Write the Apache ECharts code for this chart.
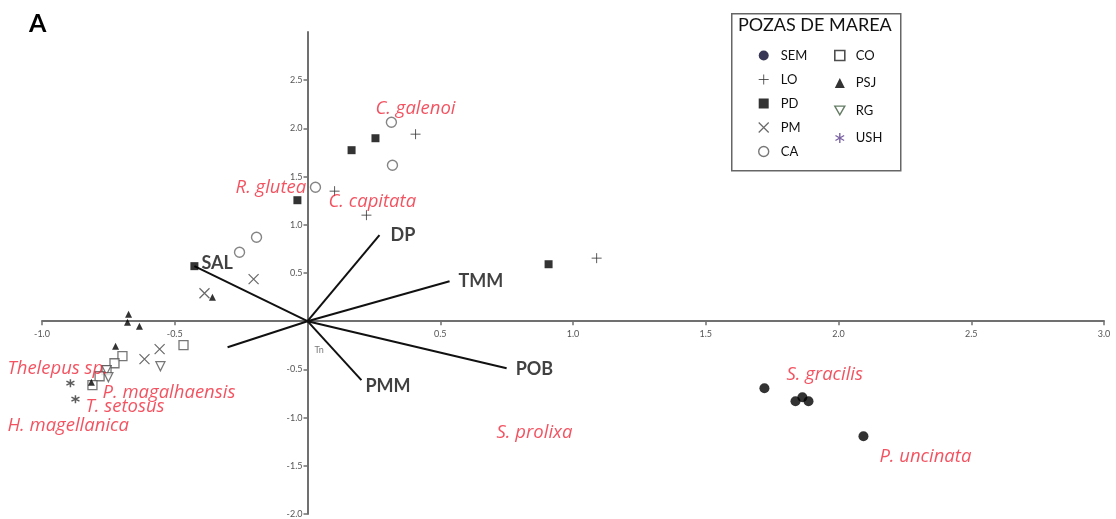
<!DOCTYPE html>
<html>
<head>
<meta charset="utf-8">
<script src="https://cdn.jsdelivr.net/npm/echarts@6/dist/echarts.min.js"></script>
<style>
html,body{margin:0;padding:0;background:#fff;}
#chart{width:1116px;height:519px;}
</style>
</head>
<body>
<div id="chart"></div>
<script>
// ---------- data ----------
const xRange = [-1.0, 3.0];
const yRange = [-2.0, 3.0];
const tickStep = 0.5;

const SEM = [[1.721,-0.695],[1.838,-0.830],[1.864,-0.788],[1.887,-0.830],[2.094,-1.193]];
const LO  = [[0.407,1.940],[0.102,1.349],[0.222,1.100],[1.089,0.654]];
const PD  = [[0.166,1.774],[0.256,1.898],[-0.038,1.255],[-0.426,0.571],[0.908,0.591]];
const PM  = [[-0.203,0.436],[-0.388,0.290],[-0.557,-0.290],[-0.614,-0.394]];
const CA  = [[0.316,2.064],[0.320,1.618],[0.030,1.390],[-0.192,0.871],[-0.256,0.716]];
const CO  = [[-0.467,-0.249],[-0.697,-0.363],[-0.727,-0.436],[-0.757,-0.508],[-0.783,-0.571],[-0.810,-0.664]];
const PSJ = [[-0.674,0.073],[-0.678,-0.010],[-0.633,-0.052],[-0.723,-0.259],[-0.358,0.249],[-0.814,-0.633]];
const RG  = [[-0.554,-0.467],[-0.757,-0.508],[-0.750,-0.581]];
const USH = [[-0.893,-0.643],[-0.874,-0.809]];

const vectorNames = ['DP','TMM','SAL','POB','PMM',''];
const vectorEnds  = [[0.271,0.892],[0.535,0.415],[-0.426,0.571],[0.750,-0.488],[0.203,-0.612],[-0.301,-0.270]];

const tnLabel = 'Tn';
const tnPos = [0.019,-0.30];

const speciesNames = ['C. galenoi','R. glutea','C. capitata','Thelepus sp.','P. magalhaensis','T. setosus','H. magellanica','S. prolixa','S. gracilis','P. uncinata'];
const speciesPos   = [[0.256,2.20],[-0.271,1.38],[0.079,1.235],[-1.130,-0.488],[-0.772,-0.737],[-0.836,-0.892],[-1.130,-1.089],[0.712,-1.162],[1.804,-0.560],[2.154,-1.411]];

const groupNames = ['SEM','LO','PD','PM','CA','CO','PSJ','RG','USH'];
const legendTitle = 'POZAS DE MAREA';
const panelLetter = 'A';

// ---------- layout / styles ----------
const W = 1116, H = 519;
const G = {left:42, right:12, top:32, bottom:5};
const plotW = W - G.left - G.right, plotH = H - G.top - G.bottom;
const zeroX = G.left + plotW * (0 - xRange[0]) / (xRange[1] - xRange[0]);
const zeroY = G.top + plotH * (yRange[1] - 0) / (yRange[1] - yRange[0]);
const yAxisOffset = -(zeroX - G.left);
const xAxisOffset = -((H - G.bottom) - zeroY);

const FONT = 'Lato, "Noto Sans", sans-serif';
const IFONT = '"Open Sans", "Noto Sans", sans-serif';
const PLUS = 'path://M5,0L5,10M0,5L10,5';
const CROSS = 'path://M0,0L10,10M0,10L10,0';
const STAR = 'path://M5,0L5,10M0.67,2.5L9.33,7.5M0.67,7.5L9.33,2.5';
const INVTRI = 'path://M0,0L10,0L5,8.66Z';
// per-label nudges (pixels) for vector labels
const vecLabelNudge = {DP:[2,0], TMM:[0,0], SAL:[-2,-3], POB:[0,1], PMM:[-5,6]};

const groupData = {SEM, LO, PD, PM, CA, CO, PSJ, RG, USH};
const groupStyle = {
  SEM: {symbol:'circle', size:10, item:{color:'#000', borderColor:'#000', borderWidth:0}, legend:{color:'#05052a', borderColor:'#05052a', borderWidth:0}},
  LO:  {symbol:PLUS, size:10, item:{color:'transparent', borderColor:'#333', borderWidth:1}, legend:{color:'transparent', borderColor:'#333', borderWidth:1}},
  PD:  {symbol:'rect', size:8, item:{color:'#000', borderColor:'#000', borderWidth:0}, legend:{color:'#000', borderColor:'#000', borderWidth:0}},
  PM:  {symbol:CROSS, size:10, item:{color:'transparent', borderColor:'#444', borderWidth:1.2}, legend:{color:'transparent', borderColor:'#444', borderWidth:1.2}},
  CA:  {symbol:'circle', size:10, item:{color:'#fff', borderColor:'#666', borderWidth:1.4}, legend:{color:'#fff', borderColor:'#555', borderWidth:1.4}},
  CO:  {symbol:'rect', size:9, item:{color:'#fff', borderColor:'#555', borderWidth:1.3}, legend:{color:'#fff', borderColor:'#222', borderWidth:1.6}},
  PSJ: {symbol:'triangle', size:7, item:{color:'#000', borderColor:'#000', borderWidth:0}, legend:{color:'#000', borderColor:'#000', borderWidth:0}},
  RG:  {symbol:INVTRI, size:9, item:{color:'#fff', borderColor:'#555', borderWidth:1.3}, legend:{color:'#fff', borderColor:'#3d5a3d', borderWidth:1.4}},
  USH: {symbol:STAR, size:8, item:{color:'transparent', borderColor:'#333', borderWidth:1.5}, legend:{color:'transparent', borderColor:'#5a3c8c', borderWidth:1.4}}
};

const series = [];

// vectors
vectorEnds.forEach((e, i) => {
  series.push({
    type:'line', name:'vec'+i, data:[[0,0], e], symbol:'none', silent:true,
    lineStyle:{color:'#111', width:2}, z:3, animation:false
  });
});
series.push({
  type:'scatter', name:'vecLabels', symbolSize:0, silent:true, z:6, animation:false,
  data: vectorEnds.map((e,i)=>({value:e, name:vectorNames[i],
    label:{offset: vecLabelNudge[vectorNames[i]] || [0,0]}})),
  label:{show:true, position:'right', distance:9, formatter:p=>p.name,
         color:'#111', fontWeight:'bold', fontSize:18, fontFamily:FONT}
});
// Tn
series.push({
  type:'scatter', name:'tn', symbolSize:0, silent:true, z:6, animation:false,
  data:[{value:tnPos, name:tnLabel}],
  label:{show:true, position:'right', distance:2, formatter:p=>p.name, color:'#555', fontSize:9, fontFamily:FONT}
});
// groups
groupNames.forEach(g => {
  const s = groupStyle[g];
  series.push({
    type:'scatter', name:g, data:groupData[g], symbol:s.symbol, symbolSize:s.size,
    itemStyle:s.item, z:5, animation:false, clip:false
  });
});
// species labels
series.push({
  type:'scatter', name:'species', symbolSize:0, silent:true, z:7, animation:false, clip:false,
  data: speciesPos.map((p,i)=>({value:p, name:speciesNames[i]})),
  label:{show:true, position:'right', distance:0, formatter:p=>p.name,
         color:'#f0283a', fontStyle:'italic', fontSize:18.5, fontFamily:IFONT}
});

const axisLabelCommon = {color:'#555', fontSize:9, fontFamily:FONT, formatter:v=> Math.abs(v)<1e-9 ? '' : v.toFixed(1)};
const axisCommon = {
  type:'value', interval:tickStep,
  axisLine:{onZero:false, lineStyle:{color:'#707070', width:2}},
  axisTick:{show:true, length:4, lineStyle:{color:'#707070', width:1.5}},
  splitLine:{show:false}
};

const legendCol1 = groupNames.slice(0,5);
const legendCol2 = groupNames.slice(5);
function legendData(names){
  return names.map(n=>({name:n, icon:groupStyle[n].symbol, itemStyle:groupStyle[n].legend}));
}

const option = {
  backgroundColor:'#fff',
  animation:false,
  title:{text:panelLetter, left:24, top:6, textStyle:{fontSize:25, fontWeight:'bold', color:'#000', fontFamily:FONT}},
  grid:{left:G.left, right:G.right, top:G.top, bottom:G.bottom, containLabel:false, outerBoundsMode:'none'},
  xAxis:Object.assign({}, axisCommon, {min:xRange[0], max:xRange[1], position:'bottom', offset:xAxisOffset,
    axisLabel:Object.assign({}, axisLabelCommon, {margin:8})}),
  yAxis:Object.assign({}, axisCommon, {min:yRange[0], max:yRange[1], position:'left', offset:yAxisOffset,
    axisLabel:Object.assign({}, axisLabelCommon, {margin:5, showMaxLabel:false})}),
  legend:[
    {data:legendData(legendCol1), orient:'vertical', left:758, top:49, itemWidth:10, itemHeight:10, itemGap:11,
     padding:0, selectedMode:false, textStyle:{fontSize:13, color:'#111', fontFamily:FONT, padding:[0,0,0,7]}},
    {data:legendData(legendCol2), orient:'vertical', left:834, top:49, itemWidth:10, itemHeight:10, itemGap:14.5,
     padding:0, selectedMode:false, textStyle:{fontSize:13, color:'#111', fontFamily:FONT, padding:[0,0,0,6]}}
  ],
  graphic:[
    {type:'rect', left:731, top:13, z:0, shape:{width:169, height:157},
     style:{fill:'#fff', stroke:'#666', lineWidth:1.5}},
    {type:'text', left:738, top:16, z:1, style:{text:legendTitle, fontSize:18, fontFamily:FONT, fill:'#111'}}
  ],
  series
};

const chart = echarts.init(document.getElementById('chart'), null, {renderer:'canvas'});
chart.setOption(option);
</script>
</body>
</html>
